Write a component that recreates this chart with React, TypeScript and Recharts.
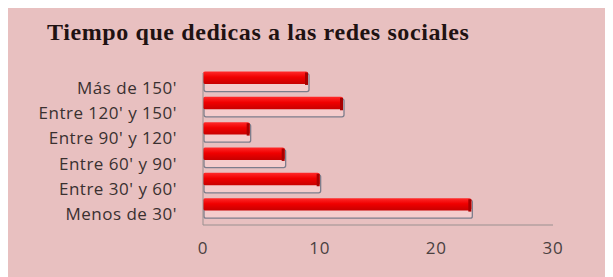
import { BarChart, Bar, XAxis, YAxis } from "recharts";

const CATEGORIES = [
  "Menos de 30'",
  "Entre 30' y 60'",
  "Entre 60' y 90'",
  "Entre 90' y 120'",
  "Entre 120' y 150'",
  "Más de 150'",
];
const VALUES = [23, 10, 7, 4, 12, 9];
const X_TICKS = [0, 10, 20, 30];

const data = CATEGORIES.map((cat, i) => ({ cat, value: VALUES[i] }));

// fake 3d bar like the old excel one: red top face, pale lower face, grey edge
function Bar3D(props: any) {
  const { x, y, width, height } = props;
  if (!width || width <= 0) return null;
  const top = y - 4;
  const redH = height * 0.62;
  return (
    <g>
      <rect
        x={x + 1}
        y={top + 2}
        width={width}
        height={height - 2}
        fill="#f4cccc"
        stroke="#7d7d8c"
        strokeWidth={1.3}
        rx={2}
      />
      <rect x={x} y={top} width={width} height={redH} fill="url(#redFace)" rx={2} />
      <rect x={x + width - 3} y={top + 1} width={3} height={redH} fill="#a80000" />
    </g>
  );
}

export default function App() {
  return (
    <div
      style={{
        position: "relative",
        width: 605,
        height: 269,
        background: "#e8c0c0",
      }}
    >
      <div
        style={{
          position: "absolute",
          left: 39,
          top: 11,
          fontFamily: "'Liberation Serif', 'Times New Roman', serif",
          fontWeight: "bold",
          fontSize: 24,
          letterSpacing: 0.6,
          color: "#1f1212",
          whiteSpace: "nowrap",
        }}
      >
        Tiempo que dedicas a las redes sociales
      </div>
      <BarChart
        width={605}
        height={269}
        data={data}
        layout="vertical"
        margin={{ top: 65, right: 60, left: 0, bottom: 22 }}
        barCategoryGap="10%"
      >
        <defs>
          <linearGradient id="redFace" x1="0" y1="0" x2="0" y2="1">
            <stop offset="0%" stopColor="#ff2a2a" />
            <stop offset="45%" stopColor="#f00000" />
            <stop offset="100%" stopColor="#c80000" />
          </linearGradient>
        </defs>
        <XAxis
          type="number"
          domain={[0, 30]}
          ticks={X_TICKS}
          tickLine={false}
          tickSize={0}
          axisLine={{ stroke: "#9a9090" }}
          tick={{
            fontSize: 17,
            fill: "#4a4040",
            fontFamily: "'Open Sans', sans-serif",
            letterSpacing: 0.8,
          }}
          tickMargin={17}
          height={30}
        />
        <YAxis
          type="category"
          dataKey="cat"
          reversed
          width={195}
          tickSize={0}
          tickLine={false}
          axisLine={{ stroke: "#9a9090" }}
          tick={{
            fontSize: 17,
            fill: "#3a3030",
            fontFamily: "'Open Sans', sans-serif",
            letterSpacing: 0.5,
            dy: 2,
          }}
          tickMargin={26}
        />
        <Bar dataKey="value" shape={<Bar3D />} isAnimationActive={false} />
      </BarChart>
    </div>
  );
}
